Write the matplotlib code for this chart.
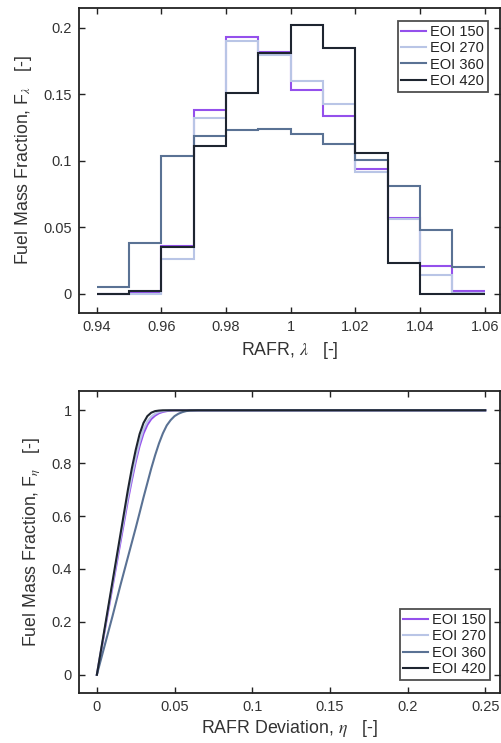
import matplotlib
matplotlib.use("Agg")
import matplotlib.pyplot as plt
import numpy as np

plt.rcParams['font.family'] = ['Liberation Sans', 'DejaVu Sans']
plt.rcParams['mathtext.fontset'] = 'stix'

# ---- Data: histogram of RAFR (lambda) ----
bin_edges = [0.94, 0.95, 0.96, 0.97, 0.98, 0.99, 1.00, 1.01, 1.02, 1.03, 1.04, 1.05, 1.06]
eoi_150 = [0.0, 0.0005, 0.036, 0.138, 0.193, 0.182, 0.153, 0.134, 0.094, 0.057, 0.021, 0.0025]
eoi_270 = [0.0, 0.0, 0.026, 0.132, 0.190, 0.180, 0.160, 0.143, 0.092, 0.056, 0.0143, 0.001]
eoi_360 = [0.005, 0.0386, 0.104, 0.119, 0.123, 0.124, 0.120, 0.113, 0.101, 0.081, 0.048, 0.020]
eoi_420 = [0.0, 0.002, 0.0356, 0.111, 0.151, 0.181, 0.202, 0.185, 0.106, 0.0236, 0.0, 0.0]

# ---- Data: cumulative fuel mass fraction vs RAFR deviation (eta) ----
eta = [0.0, 0.005, 0.01, 0.015, 0.02, 0.0225, 0.025, 0.0275, 0.03, 0.0325, 0.035, 0.0375,
       0.04, 0.0425, 0.045, 0.0475, 0.05, 0.0525, 0.055, 0.0575, 0.06, 0.065, 0.07, 0.25]
cdf_150 = [0.0, 0.165, 0.33, 0.495, 0.66, 0.735, 0.805, 0.865, 0.912, 0.945, 0.967, 0.98,
           0.989, 0.994, 0.997, 0.999, 1.0, 1.0, 1.0, 1.0, 1.0, 1.0, 1.0, 1.0]
cdf_270 = [0.0, 0.17, 0.34, 0.51, 0.675, 0.75, 0.82, 0.88, 0.928, 0.958, 0.976, 0.987,
           0.994, 0.997, 0.999, 1.0, 1.0, 1.0, 1.0, 1.0, 1.0, 1.0, 1.0, 1.0]
cdf_360 = [0.0, 0.11, 0.22, 0.335, 0.445, 0.50, 0.555, 0.612, 0.67, 0.725, 0.78, 0.83,
           0.875, 0.913, 0.943, 0.963, 0.978, 0.987, 0.993, 0.997, 0.999, 1.0, 1.0, 1.0]
cdf_420 = [0.0, 0.175, 0.35, 0.525, 0.70, 0.78, 0.85, 0.91, 0.952, 0.978, 0.991, 0.997,
           0.999, 1.0, 1.0, 1.0, 1.0, 1.0, 1.0, 1.0, 1.0, 1.0, 1.0, 1.0]

labels = ['EOI 150', 'EOI 270', 'EOI 360', 'EOI 420']
colors = ['#9450ec', '#b9c5e6', '#5a7294', '#1e2530']

fig = plt.figure(figsize=(5.01, 7.43), dpi=100)

W, H = 501.0, 743.0
def ax_rect(l, r, t, b):
    return [l / W, 1 - b / H, (r - l) / W, (b - t) / H]

ax1 = fig.add_axes(ax_rect(79, 500, 8, 313))
ax2 = fig.add_axes(ax_rect(79, 500, 391, 693))

lw = 1.5
for vals, lab, c in zip([eoi_150, eoi_270, eoi_360, eoi_420], labels, colors):
    ax1.stairs(vals, bin_edges, baseline=None, color=c, lw=lw, label=lab)
ax1.set_xlim(0.9345, 1.0647)
ax1.set_ylim(-0.0143, 0.215)
ax1.set_xticks([0.94, 0.96, 0.98, 1.0, 1.02, 1.04, 1.06])
ax1.set_xticklabels(['0.94', '0.96', '0.98', '1', '1.02', '1.04', '1.06'])
ax1.set_yticks([0, 0.05, 0.1, 0.15, 0.2])
ax1.set_yticklabels(['0', '0.05', '0.1', '0.15', '0.2'])
lab_fs = 12.8
ax1.set_xlabel(r'RAFR, $\lambda$   [-]', fontsize=lab_fs, color='#333333', labelpad=4)
ax1.set_ylabel(r'Fuel Mass Fraction, F$_\lambda$   [-]', fontsize=lab_fs, color='#333333', labelpad=7)

for vals, lab, c in zip([cdf_150, cdf_270, cdf_360, cdf_420], labels, colors):
    ax2.plot(eta, vals, color=c, lw=lw, label=lab)
ax2.set_xlim(-0.0115, 0.2595)
ax2.set_ylim(-0.069, 1.073)
ax2.set_xticks([0, 0.05, 0.1, 0.15, 0.2, 0.25])
ax2.set_xticklabels(['0', '0.05', '0.1', '0.15', '0.2', '0.25'])
ax2.set_yticks([0, 0.2, 0.4, 0.6, 0.8, 1.0])
ax2.set_yticklabels(['0', '0.2', '0.4', '0.6', '0.8', '1'])
ax2.set_xlabel(r'RAFR Deviation, $\eta$   [-]', fontsize=lab_fs, color='#333333', labelpad=3)
ax2.set_ylabel(r'Fuel Mass Fraction, F$_\eta$   [-]', fontsize=lab_fs, color='#333333', labelpad=7)

for ax in (ax1, ax2):
    for s in ax.spines.values():
        s.set_linewidth(1.3)
        s.set_color('#222222')
    ax.tick_params(direction='in', top=True, right=True, length=4, width=1.0,
                   labelsize=10.5, colors='#222222', labelcolor='#333333', pad=5)

leg_kw = dict(fontsize=10.5, frameon=True, fancybox=False, edgecolor='#222222',
              handlelength=1.7, handletextpad=0.3, labelspacing=0.17,
              borderpad=0.25, borderaxespad=0.0)
l1 = ax1.legend(loc='upper right', bbox_to_anchor=((488 - 79) / 421, 1 - (21 - 8) / 305), **leg_kw)
l2 = ax2.legend(loc='lower right', bbox_to_anchor=((490 - 79) / 421, (693 - 680) / 302), **leg_kw)
for l in (l1, l2):
    l.get_frame().set_linewidth(1.3)
    for t in l.get_texts():
        t.set_color('#222222')

fig.savefig('out.png', dpi=100)
